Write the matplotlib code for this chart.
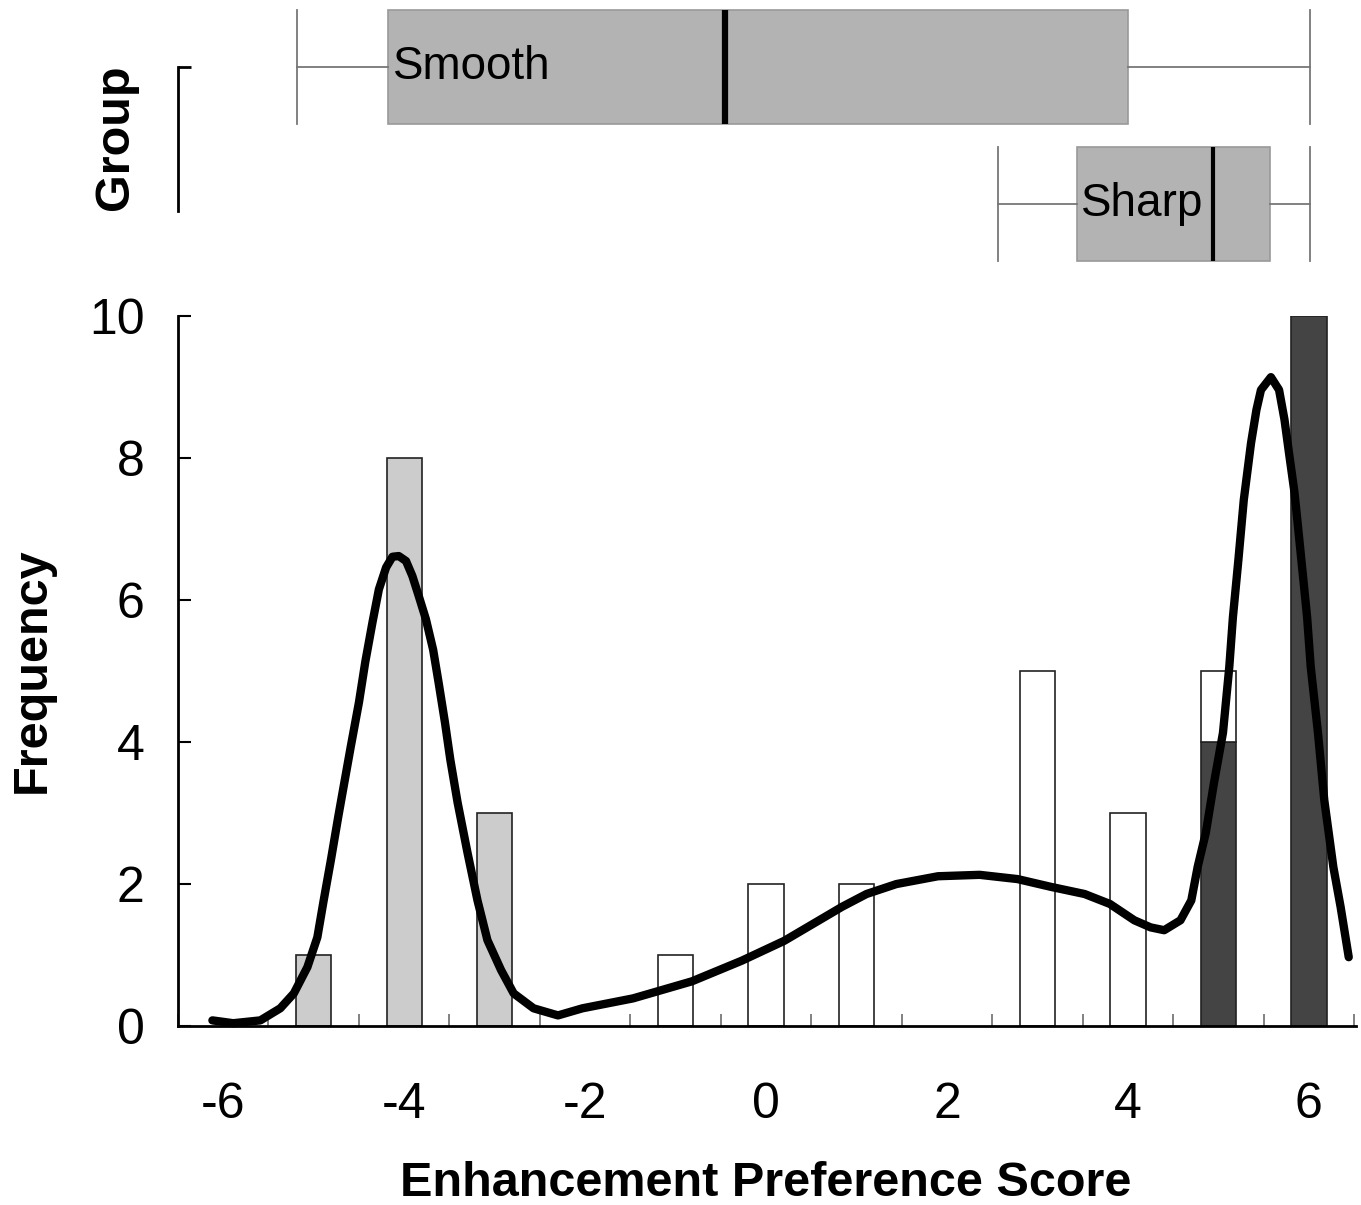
import matplotlib.pyplot as plt
from matplotlib.ticker import MultipleLocator

plt.rcParams['font.family'] = ['Liberation Sans', 'DejaVu Sans']
plt.rcParams['axes.unicode_minus'] = False

# histogram counts per score
smooth_scores = [-5, -4, -3]
smooth_counts = [1, 8, 3]
sharp_scores = [5, 6]
sharp_counts = [4, 10]
mixed_scores = [-1, 0, 1, 3, 4, 5]
mixed_counts = [1, 2, 2, 5, 3, 1]

# density curve, scaled to counts
curve_x = [-6.12, -5.89, -5.59, -5.37, -5.22, -5.07, -4.96, -4.89, -4.81, -4.73,
           -4.67, -4.59, -4.50, -4.43, -4.35, -4.28, -4.20, -4.13, -4.06, -3.98,
           -3.91, -3.84, -3.76, -3.68, -3.62, -3.55, -3.49, -3.41, -3.30, -3.19,
           -3.08, -2.93, -2.79, -2.57, -2.30, -2.03, -1.47, -0.82, -0.27, 0.20,
           0.52, 0.84, 1.11, 1.44, 1.90, 2.36, 2.78, 3.15, 3.52, 3.80,
           4.07, 4.25, 4.40, 4.58, 4.70, 4.77, 4.86, 4.95, 5.05, 5.12,
           5.16, 5.22, 5.28, 5.36, 5.42, 5.47, 5.58, 5.67, 5.73, 5.78,
           5.84, 5.89, 5.95, 5.98, 6.02, 6.10, 6.17, 6.27, 6.35, 6.44]
curve_y = [0.08, 0.04, 0.08, 0.25, 0.46, 0.83, 1.25, 1.77, 2.34, 2.94,
           3.37, 3.94, 4.56, 5.13, 5.69, 6.15, 6.46, 6.61, 6.62, 6.55,
           6.34, 6.06, 5.73, 5.30, 4.84, 4.28, 3.75, 3.15, 2.44, 1.77,
           1.21, 0.79, 0.46, 0.25, 0.15, 0.25, 0.39, 0.63, 0.92, 1.20,
           1.44, 1.68, 1.86, 2.00, 2.11, 2.13, 2.07, 1.96, 1.86, 1.72,
           1.49, 1.39, 1.35, 1.49, 1.77, 2.24, 2.72, 3.42, 4.13, 5.06,
           5.76, 6.56, 7.41, 8.21, 8.68, 8.96, 9.14, 8.96, 8.54, 8.07,
           7.52, 6.90, 6.14, 5.76, 5.06, 4.13, 3.18, 2.24, 1.68, 0.97]

# box plot summaries per group
box_stats = [
    dict(label='Smooth', whislo=-5.19, q1=-4.18, med=-0.45, q3=4.00, whishi=6.01, fliers=[]),
    dict(label='Sharp', whislo=2.56, q1=3.44, med=4.94, q3=5.57, whishi=6.01, fliers=[]),
]
group_pos = [1, 0]
text_x = [-4.12, 3.48]
median_lw = [4.5, 3.0]

XMIN, XMAX = -6.5, 6.52
BAR_W = 0.39

fig = plt.figure(figsize=(13.61, 12.05), dpi=100)
ax = fig.add_axes([0.1308, 0.1485, 0.8655, 0.5892])
axb = fig.add_axes([0.1308, 0.7718, 0.8655, 0.2282])

# --- histogram ---
ax.bar(smooth_scores, smooth_counts, width=BAR_W, color='#cccccc',
       edgecolor='#222222', linewidth=1.2)
ax.bar(sharp_scores, sharp_counts, width=BAR_W, color='#444444',
       edgecolor='#222222', linewidth=1.2)
sharp_lookup = dict(zip(sharp_scores, sharp_counts))
mixed_bottom = [sharp_lookup.get(s, 0) for s in mixed_scores]
ax.bar(mixed_scores, mixed_counts, width=BAR_W, bottom=mixed_bottom,
       color='white', edgecolor='#222222', linewidth=1.2)

ax.plot(curve_x, curve_y, color='black', linewidth=6, solid_capstyle='round',
        solid_joinstyle='round', clip_on=False)

ax.set_xlim(XMIN, XMAX)
ax.set_ylim(0, 10)
for side in ['top', 'right']:
    ax.spines[side].set_visible(False)
for side in ['left', 'bottom']:
    ax.spines[side].set_linewidth(2)

ax.set_xticks(range(-6, 7, 2))
ax.xaxis.set_minor_locator(MultipleLocator(1, offset=0.5))
ax.set_yticks(range(0, 11, 2))
ax.tick_params(axis='x', which='major', length=0, pad=40, labelsize=36)
ax.tick_params(axis='x', which='minor', direction='in', length=9,
               width=1.3, color='#777777')
ax.tick_params(axis='y', direction='in', length=9, width=1.5, pad=24,
               labelsize=36)

fig.text(766 / 1361, 1 - 1183 / 1205, 'Enhancement Preference Score',
         fontsize=35, fontweight='bold', ha='center', va='center')
fig.text(32 / 1361, 1 - 670 / 1205, 'Frequency', fontsize=35,
         fontweight='bold', rotation=90, ha='center', va='center')
fig.text(116 / 1361, 1 - 137 / 1205, 'Group', fontsize=35,
         fontweight='bold', rotation=90, ha='center', va='center')

# --- box plots by group ---
for stats, pos, tx, mlw in zip(box_stats, group_pos, text_x, median_lw):
    axb.bxp([stats], positions=[pos], widths=0.825, capwidths=0.825,
            orientation='horizontal', patch_artist=True, showfliers=False,
            boxprops=dict(facecolor='#b3b3b3', edgecolor='#999999', linewidth=1.2),
            whiskerprops=dict(color='#777777', linewidth=1.3),
            capprops=dict(color='#777777', linewidth=1.3),
            medianprops=dict(color='black', linewidth=mlw))
    axb.text(tx, pos, stats['label'], fontsize=33, ha='left', va='center')

axb.set_xlim(XMIN, XMAX)
axb.set_ylim(-0.518, 1.489)
for side in ['top', 'right', 'bottom']:
    axb.spines[side].set_visible(False)
axb.spines['left'].set_bounds(-0.05, 1)
axb.spines['left'].set_linewidth(2)
axb.set_xticks([])
axb.set_yticks([1])
axb.set_yticklabels([''])
axb.tick_params(axis='y', direction='in', length=9, width=2)

fig.savefig('out.png', dpi=100)
